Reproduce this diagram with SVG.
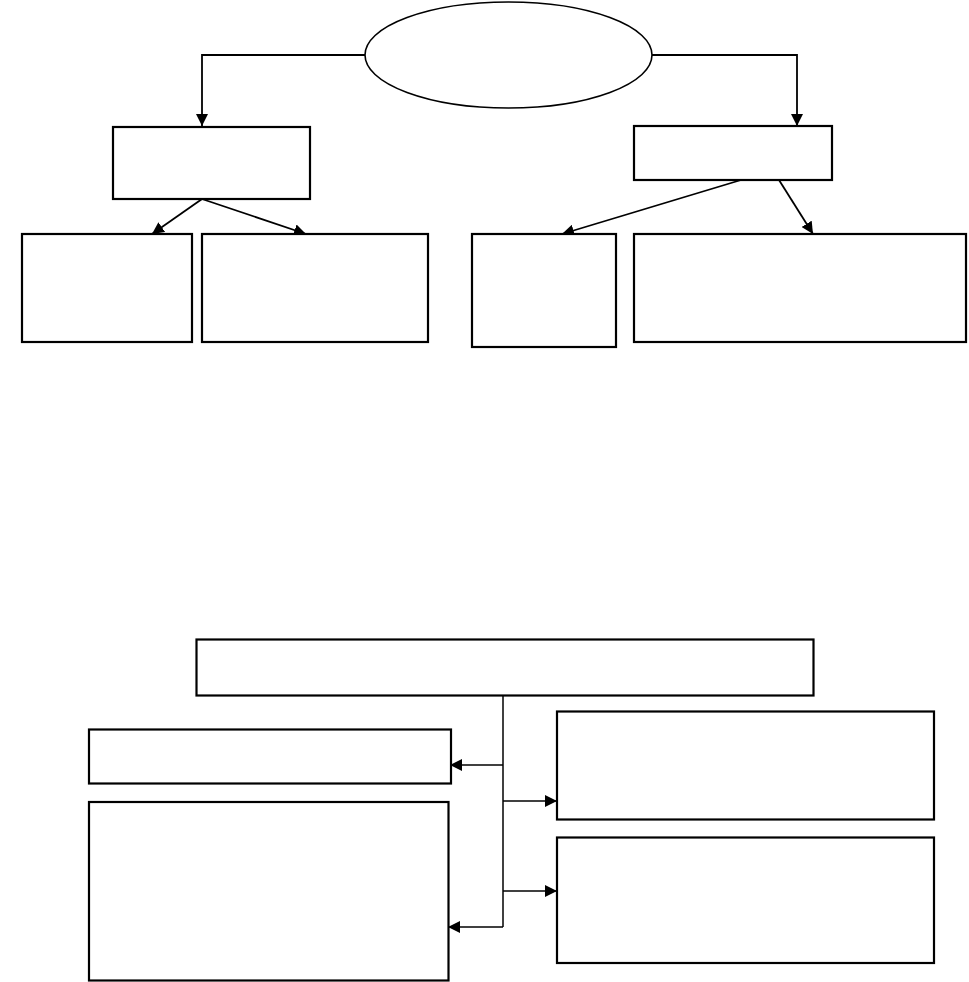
<svg xmlns="http://www.w3.org/2000/svg" width="969" height="982" viewBox="0 0 969 982">
<style>
.box{fill:#fff;stroke:#000;stroke-width:2.2}
.ln{fill:none;stroke:#000;stroke-width:1.8}
.ln2{fill:none;stroke:#000;stroke-width:1.5}
</style>
<defs>
<marker id="ah" viewBox="0 0 10 10" refX="10" refY="5" markerWidth="12" markerHeight="12" markerUnits="userSpaceOnUse" orient="auto">
<path d="M0,0 L10,5 L0,10 Z" fill="#000"/>
</marker>
</defs>
<rect width="969" height="982" fill="#fff"/>
<g id="connectors">
<path class="ln" d="M365,55 H202 V126" marker-end="url(#ah)"/>
<path class="ln" d="M652,55 H797 V126" marker-end="url(#ah)"/>
<path class="ln" d="M202,199 L152,234" marker-end="url(#ah)"/>
<path class="ln" d="M202,199 L306,234" marker-end="url(#ah)"/>
<path class="ln" d="M741,180 L562,234" marker-end="url(#ah)"/>
<path class="ln" d="M779,180 L813,234" marker-end="url(#ah)"/>
<path class="ln2" d="M503,693 V927"/>
<path class="ln2" d="M503,765 H450" marker-end="url(#ah)"/>
<path class="ln2" d="M503,927 H448" marker-end="url(#ah)"/>
<path class="ln2" d="M503,801 H557" marker-end="url(#ah)"/>
<path class="ln2" d="M503,891 H557" marker-end="url(#ah)"/>
</g>
<g id="root"><ellipse cx="508.5" cy="55" rx="143.5" ry="53" fill="#fff" stroke="#000" stroke-width="1.6"/></g>
<g id="nodeA"><rect class="box" x="113" y="127" width="197" height="72"/></g>
<g id="nodeB"><rect class="box" x="634" y="126" width="198" height="54"/></g>
<g id="nodeC1"><rect class="box" x="22" y="234" width="170" height="108"/></g>
<g id="nodeC2"><rect class="box" x="202" y="234" width="226" height="108"/></g>
<g id="nodeC3"><rect class="box" x="472" y="234" width="144" height="113"/></g>
<g id="nodeC4"><rect class="box" x="634" y="234" width="332" height="108"/></g>
<g id="nodeD"><rect class="box" x="196.5" y="639.5" width="617" height="56"/></g>
<g id="nodeE"><rect class="box" x="89" y="729.5" width="362" height="54"/></g>
<g id="nodeF"><rect class="box" x="89" y="802" width="359.5" height="178.5"/></g>
<g id="nodeG"><rect class="box" x="557" y="711.5" width="377" height="108"/></g>
<g id="nodeH"><rect class="box" x="557" y="837.5" width="377" height="125.5"/></g>
</svg>
